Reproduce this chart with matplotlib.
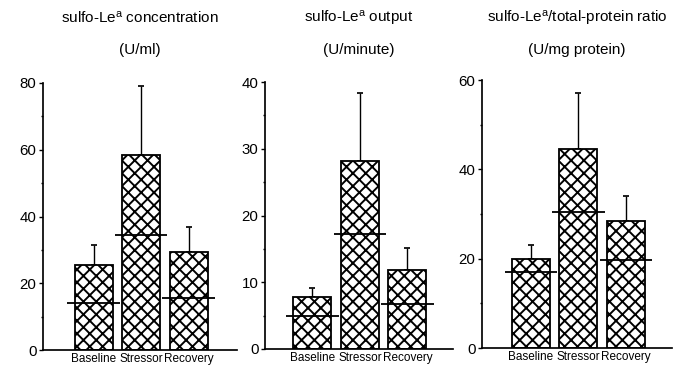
import numpy as np
import matplotlib
matplotlib.use('Agg')
import matplotlib.pyplot as plt
from matplotlib.transforms import ScaledTranslation

# data
groups = ['Baseline', 'Stressor', 'Recovery']

conc_mean = [25.5, 58.5, 29.5]
conc_err_top = [31.5, 79.0, 37.0]
conc_median = [14.0, 34.5, 15.5]

output_mean = [7.8, 28.2, 11.9]
output_err_top = [9.1, 38.4, 15.2]
output_median = [5.0, 17.2, 6.8]

ratio_mean = [20.0, 44.6, 28.5]
ratio_err_top = [23.0, 57.0, 34.0]
ratio_median = [17.0, 30.5, 19.7]

titles = [('sulfo-Le$^{\\mathregular{a}}$ concentration', '(U/ml)'),
          ('sulfo-Le$^{\\mathregular{a}}$ output', '(U/minute)'),
          ('sulfo-Le$^{\\mathregular{a}}$/total-protein ratio', '(U/mg protein)')]
y_max = [80, 40, 60]
y_major = [20, 10, 20]

plt.rcParams['font.family'] = ['Liberation Sans', 'DejaVu Sans']
plt.rcParams['mathtext.default'] = 'regular'
plt.rcParams['hatch.linewidth'] = 1.8
plt.rcParams['hatch.color'] = 'black'

DPI = 77
W, H = 677, 368
fig = plt.figure(figsize=(W / DPI, H / DPI), dpi=DPI)

# pixel layout: (axis x, right end, bottom y, top y, xlim)
layout = [
    (43, 237, 350, 83, (-1.063, 3.02)),
    (265, 453, 349, 82, (-1.0, 2.958)),
    (482, 672, 348, 80, (-1.03, 2.97)),
]
panels = [
    (conc_mean, conc_err_top, conc_median),
    (output_mean, output_err_top, output_median),
    (ratio_mean, ratio_err_top, ratio_median),
]
label_shift_px = [-3, 2, 8]  # the original labels sit a bit spread out

x = np.arange(len(groups))
for i, (mean, top, med) in enumerate(panels):
    x0, x1, yb, yt, xl = layout[i]
    ax = fig.add_axes([x0 / W, 1 - yb / H, (x1 - x0) / W, (yb - yt) / H])
    mean = np.array(mean)
    top = np.array(top)
    ax.bar(x, mean, width=0.8, color='white', edgecolor='black',
           linewidth=1.7, hatch='xx', zorder=2)
    ax.errorbar(x, mean, yerr=[np.zeros_like(mean), top - mean], fmt='none',
                ecolor='black', elinewidth=1.3, capsize=3, capthick=1.6,
                zorder=1, clip_on=False)
    ax.hlines(med, x - 0.55, x + 0.55, color='black', lw=1.7, zorder=3)

    ax.set_xlim(*xl)
    ax.set_ylim(0, y_max[i])
    ax.set_yticks(np.arange(0, y_max[i] + 1, y_major[i]))
    ax.set_yticks(np.arange(y_major[i] / 2, y_max[i], y_major[i]), minor=True)
    ax.set_xticks(x)
    ax.set_xticklabels(groups, fontsize=11)
    for lab, dx in zip(ax.get_xticklabels(), label_shift_px):
        lab.set_transform(lab.get_transform() +
                          ScaledTranslation(dx / DPI, 0, fig.dpi_scale_trans))
    ax.tick_params(axis='x', length=0, pad=3)
    ax.tick_params(axis='y', which='major', length=4, width=1.3, pad=2,
                   labelsize=14)
    ax.tick_params(axis='y', which='minor', length=2, width=1.3)
    for s in ('top', 'right'):
        ax.spines[s].set_visible(False)
    for s in ('left', 'bottom'):
        ax.spines[s].set_linewidth(1.6)

    cx = (x0 + x1) / 2 / W
    fig.text(cx, 1 - 18 / H, titles[i][0], ha='center', va='center', fontsize=14.3)
    fig.text(cx, 1 - 50 / H, titles[i][1], ha='center', va='center', fontsize=14.3)

fig.savefig('out.png', dpi=DPI)
